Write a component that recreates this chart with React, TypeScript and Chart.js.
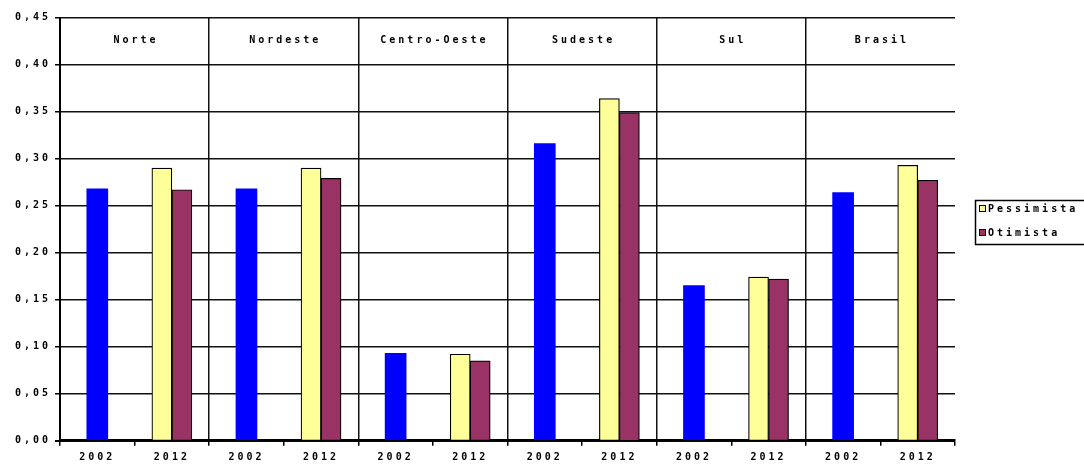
import React, { useEffect, useRef } from 'react';
import { Chart, registerables } from 'chart.js';

Chart.register(...registerables);

const categories = ['2002', '2012', '2002', '2012', '2002', '2012', '2002', '2012', '2002', '2012', '2002', '2012'];
const regions = ['Norte', 'Nordeste', 'Centro-Oeste', 'Sudeste', 'Sul', 'Brasil'];
const base2002 = [0.268, null, 0.268, null, 0.093, null, 0.316, null, 0.165, null, 0.264, null];
const pessimista = [null, 0.29, null, 0.29, null, 0.092, null, 0.364, null, 0.174, null, 0.293];
const otimista = [null, 0.267, null, 0.279, null, 0.085, null, 0.349, null, 0.172, null, 0.277];
const legendLabels = ['Pessimista', 'Otimista'];

const FONT_FAMILY = '"DejaVu Sans Mono", monospace';
const COLORS = { blue: '#0000ff', yellow: '#ffff99', maroon: '#993366' };

const spacingPlugin = {
  id: 'spacing',
  beforeDraw(chart: any) {
    (chart.ctx as any).letterSpacing = '3px';
  },
  afterDraw(chart: any) {
    (chart.ctx as any).letterSpacing = '0px';
  },
};

const labelsPlugin = {
  id: 'regionLabels',
  afterDraw(chart: any) {
    const ctx = chart.ctx;
    const x = chart.scales.x;
    const y = chart.scales.y;
    ctx.save();
    (ctx as any).letterSpacing = '3px';
    ctx.font = `bold 10px ${FONT_FAMILY}`;
    ctx.fillStyle = '#000';
    ctx.textAlign = 'center';
    ctx.textBaseline = 'middle';
    const yy = (y.getPixelForValue(0.45) + y.getPixelForValue(0.4)) / 2 - 1;
    regions.forEach((r, i) => {
      const cx = (x.getPixelForValue(2 * i) + x.getPixelForValue(2 * i + 1)) / 2;
      ctx.fillText(r, cx + 1.5, yy);
    });
    // legend
    ctx.lineWidth = 1.5;
    ctx.strokeStyle = '#000';
    ctx.strokeRect(975.5, 200.5, 130, 44);
    ctx.textAlign = 'left';
    const items = [
      { label: legendLabels[0], color: COLORS.yellow, y: 209 },
      { label: legendLabels[1], color: COLORS.maroon, y: 233 },
    ];
    items.forEach((it) => {
      ctx.fillStyle = it.color;
      ctx.fillRect(979.5, it.y - 3.5, 6, 6);
      ctx.lineWidth = 1;
      ctx.strokeRect(979.5, it.y - 3.5, 6, 6);
      ctx.fillStyle = '#000';
      ctx.fillText(it.label, 988, it.y);
    });
    ctx.restore();
  },
};

export default function App() {
  const ref = useRef<HTMLCanvasElement>(null);
  useEffect(() => {
    if (!ref.current) return;
    const chart = new Chart(ref.current, {
      type: 'bar',
      data: {
        labels: categories,
        datasets: [
          {
            label: '2002',
            data: base2002 as any,
            backgroundColor: COLORS.blue,
            borderWidth: 0,
            barThickness: 21,
            skipNull: true,
          } as any,
          {
            label: legendLabels[0],
            data: pessimista as any,
            backgroundColor: COLORS.yellow,
            borderColor: '#000',
            borderWidth: 1.2,
            barThickness: 20,
            skipNull: true,
          } as any,
          {
            label: legendLabels[1],
            data: otimista as any,
            backgroundColor: COLORS.maroon,
            borderColor: '#000',
            borderWidth: 1.2,
            barThickness: 20,
            skipNull: true,
          } as any,
        ],
      },
      options: {
        responsive: false,
        animation: false,
        devicePixelRatio: 1,
        layout: { padding: { top: 17.7, right: 129, left: 0, bottom: 0 } },
        plugins: {
          legend: { display: false },
          tooltip: { enabled: false },
        },
        scales: {
          x: {
            offset: true,
            grid: {
              color: (c: any) => (c.index % 2 === 0 ? '#111' : 'rgba(0,0,0,0)'),
              tickColor: '#000',
              lineWidth: 1.5,
              tickLength: 5,
              tickWidth: 1.5,
            } as any,
            border: { display: true, color: '#000', width: 2.5 },
            ticks: {
              color: '#000',
              font: { family: FONT_FAMILY, size: 10, weight: 'bold' },
              maxRotation: 0,
              autoSkip: false,
              padding: 6,
            },
            afterFit: (s: any) => {
              s.height = 28.3;
            },
          },
          y: {
            min: 0,
            max: 0.45,
            grid: {
              color: '#111',
              lineWidth: (c: any) => (c.tick && c.tick.value === 0 ? 2 : 1.5),
              tickColor: '#000',
              tickLength: 5,
            } as any,
            border: { display: true, color: '#000', width: 2 },
            ticks: {
              stepSize: 0.05,
              color: '#000',
              font: { family: FONT_FAMILY, size: 10, weight: 'bold' },
              padding: 4,
              callback: (v: any) => Number(v).toFixed(2).replace('.', ','),
            },
            afterFit: (s: any) => {
              s.width = 60;
            },
          },
        },
      },
      plugins: [spacingPlugin, labelsPlugin],
    });
    return () => chart.destroy();
  }, []);
  return (
    <div style={{ position: 'absolute', left: 0, top: 0, width: 1084, height: 469, background: '#fff' }}>
      <canvas ref={ref} width={1084} height={469} />
    </div>
  );
}
